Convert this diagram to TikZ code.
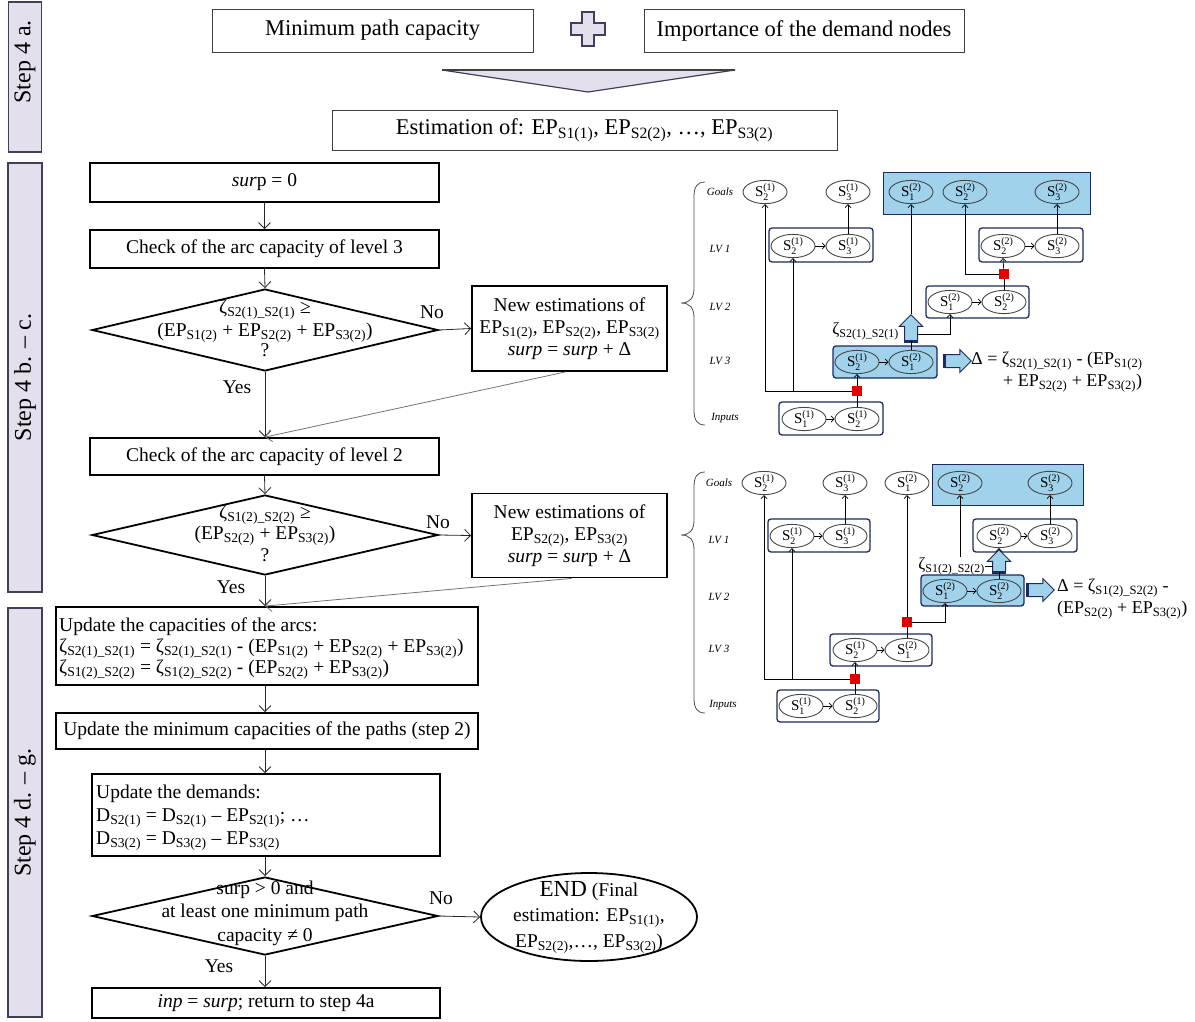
\documentclass[tikz,border=0pt]{standalone}
\usepackage{fontspec}
\setmainfont{Liberation Serif}
\usetikzlibrary{shapes.geometric,shapes.arrows,arrows.meta,calc}
\definecolor{lav}{RGB}{228,223,236}
\definecolor{lavd}{RGB}{70,62,88}
\definecolor{skyb}{RGB}{160,210,235}
\definecolor{navy}{RGB}{28,42,92}
\definecolor{ellc}{RGB}{70,70,70}
\newcommand\sbs[1]{\textsubscript{#1}}
\newcommand\Sx[2]{S\rlap{\raisebox{-3.5pt}{\fontsize{10}{10}\selectfont #1}}\raisebox{6pt}{\fontsize{10}{10}\selectfont(#2)}}
\newcommand\fsm{\fontsize{19.5}{22}\selectfont}
\tikzset{
  fbox/.style={draw=black, line width=1.8pt, rectangle, inner sep=0pt, font=\fsm, align=center},
  tbox/.style={draw=black!75, line width=1pt, rectangle, inner sep=0pt, font=\fontsize{22.5}{24}\selectfont, align=center},
  dia/.style={draw=black, line width=1.8pt, diamond, inner sep=0pt},
  conn/.style={draw=black!85, line width=0.8pt, -{Straight Barb[length=6pt,width=12pt]}},
  slant/.style={draw=black!55, line width=0.8pt, -{Straight Barb[length=6pt,width=12pt]}},
  lbl/.style={font=\fsm, inner sep=0pt},
  stepbar/.style={draw=lavd, line width=1.5pt, fill=lav, rectangle, inner sep=0pt},
  steptxt/.style={rotate=90, font=\fontsize{24}{26}\selectfont, inner sep=0pt},
  ell/.style={ellipse, draw=ellc, line width=0.9pt, minimum width=44pt, minimum height=18pt, inner sep=0pt, font=\fontsize{15}{15}\selectfont},
  rbox/.style={draw=navy, line width=1.3pt, rounded corners=3pt, rectangle, inner sep=0pt},
  bbox/.style={rbox, fill=skyb},
  gbox/.style={draw=navy, line width=1pt, fill=skyb, rectangle, inner sep=0pt},
  lv/.style={font=\fontsize{11}{12}\selectfont\itshape, inner sep=0pt},
  sarr/.style={draw=black, line width=0.7pt, -{Straight Barb[length=3pt,width=6pt]}},
  sln/.style={draw=black, line width=0.7pt},
  redsq/.style={fill=red!90!black, draw=none, minimum size=10pt, inner sep=0pt},
  blk/.style={single arrow, draw=navy, line width=1pt, fill=skyb, inner sep=6pt, single arrow head extend=5pt, single arrow tip angle=90},
  brace/.style={draw=black!70, line width=0.8pt},
  dtxt/.style={font=\fontsize{18}{20}\selectfont, inner sep=0pt, anchor=west},
  ztxt/.style={font=\fontsize{17}{18}\selectfont, inner sep=0pt, anchor=east},
}
\begin{document}
\begin{tikzpicture}[x=1pt,y=-1pt]
\useasboundingbox (0,0) rectangle (1195,1021);
% ---------- step bars
\node[stepbar, minimum width=33, minimum height=150] (s4a) at (25,77) {};
\node[steptxt] (s4aT) at (25,62) {Step 4 a.};
\node[stepbar, minimum width=34, minimum height=429] (s4b) at (25,377.5) {};
\node[steptxt] (s4bT) at (s4b) {Step 4 b. – c.};
\node[stepbar, minimum width=34, minimum height=409] (s4d) at (25,812.5) {};
\node[steptxt] (s4dT) at (s4d) {Step 4 d. – g.};
% ---------- top
\node[tbox, minimum width=321, minimum height=43] (mpc) at (372.5,30.5) {Minimum path capacity};
\node[tbox, minimum width=320, minimum height=43] (imp) at (804,30.5) {Importance of the demand nodes};
\draw[lavd, line width=1.3pt, fill=lav] (582,12) -- (594,12) -- (594,23) -- (605,23) -- (605,35) -- (594,35) -- (594,46) -- (582,46) -- (582,35) -- (571,35) -- (571,23) -- (582,23) -- cycle;
\draw[lavd, line width=1.2pt, fill=lav] (442,70) -- (735,70) -- (588,92) -- cycle;
\draw[black!75, line width=2pt] (442,70) -- (735,70);
\node[tbox, minimum width=505, minimum height=40] (est) at (584.5,130) {Estimation of: EP\sbs{S1(1)}, EP\sbs{S2(2)}, …, EP\sbs{S3(2)}};
% ---------- flowchart
\node[fbox, minimum width=349, minimum height=39] (surp0) at (264.5,182.5) {\textit{sur}p = 0};
\node[fbox, minimum width=349, minimum height=38] (chk3) at (264.5,249) {Check of the arc capacity of level 3};
\node[dia, minimum width=346, minimum height=82] (d1) at (265,330) {};
\node[lbl, align=center, font=\fontsize{19.5}{23}\selectfont] (d1T) at (265,328) {ζ\sbs{S2(1)\_S2(1)} ≥\\(EP\sbs{S1(2)} + EP\sbs{S2(2)} + EP\sbs{S3(2)})\\[-3pt]?};
\node[fbox, minimum width=195, minimum height=85] (new1) at (569.5,328.5) {New estimations of\\EP\sbs{S1(2)}, EP\sbs{S2(2)}, EP\sbs{S3(2)}\\\textit{surp} = \textit{surp} + Δ};
\node[fbox, minimum width=349, minimum height=37] (chk2) at (264.5,456.5) {Check of the arc capacity of level 2};
\node[dia, minimum width=346, minimum height=80] (d2) at (265,535) {};
\node[lbl, align=center, font=\fontsize{19.5}{21.5}\selectfont] (d2T) at (265,533) {ζ\sbs{S1(2)\_S2(2)} ≥\\(EP\sbs{S2(2)} + EP\sbs{S3(2)})\\?};
\node[fbox, minimum width=195, minimum height=84] (new2) at (569.5,535.5) {New estimations of\\EP\sbs{S2(2)}, EP\sbs{S3(2)}\\\textit{surp} = \textit{sur}p + Δ};
\node[fbox, minimum width=422, minimum height=78] (upd) at (267,646) {};
\node[lbl, align=left, anchor=west, font=\fontsize{19.5}{21}\selectfont] (updT) at (59,649) {Update the capacities of the arcs:\\ζ\sbs{S2(1)\_S2(1)} = ζ\sbs{S2(1)\_S2(1)} - (EP\sbs{S1(2)} + EP\sbs{S2(2)} + EP\sbs{S3(2)})\\ζ\sbs{S1(2)\_S2(2)} = ζ\sbs{S1(2)\_S2(2)} - (EP\sbs{S2(2)} + EP\sbs{S3(2)})};
\node[fbox, minimum width=422, minimum height=36] (updmin) at (267,731) {Update the minimum capacities of the paths (step 2)};
\node[fbox, minimum width=348, minimum height=82] (dem) at (266,815) {};
\node[lbl, align=left, anchor=west, font=\fontsize{19.5}{23}\selectfont] (demT) at (96,818) {Update the demands:\\D\sbs{S2(1)} = D\sbs{S2(1)} – EP\sbs{S2(1)}; …\\D\sbs{S3(2)} = D\sbs{S3(2)} – EP\sbs{S3(2)}};
\node[dia, minimum width=346, minimum height=78] (d3) at (265,916) {};
\node[lbl, align=center, font=\fontsize{19.5}{23.5}\selectfont] (d3T) at (265,913) {surp \textgreater{} 0 and\\at least one minimum path\\capacity ≠ 0};
\node[ellipse, draw=black, line width=1.8pt, minimum width=216, minimum height=88, inner sep=0pt] (endE) at (589,917) {};
\node[lbl, align=center, font=\fontsize{19.5}{25.5}\selectfont] (endT) at (589,917) {{\fontsize{23}{25}\selectfont END} (Final\\estimation: EP\sbs{S1(1)},\\EP\sbs{S2(2)},…, EP\sbs{S3(2)})};
\node[fbox, minimum width=348, minimum height=30] (fin) at (266,1003) {\textit{inp} = \textit{surp}; return to step 4a};
% flow connectors
\draw[conn] (surp0.south) -- (chk3.north);
\draw[conn] (chk3.south) -- (d1.north);
\draw[conn] (d1.south) -- (d1.south |- chk2.north);
\draw[conn] (d1.east) -- (new1.west);
\draw[slant] ([xshift=-4pt]new1.south) -- (d1.south |- chk2.north);
\draw[conn] (chk2.south) -- (d2.north);
\draw[conn] (d2.south) -- (d2.south |- upd.north);
\draw[conn] (d2.east) -- (new2.west);
\draw[slant] ([xshift=2pt]new2.south) -- (d2.south |- upd.north);
\draw[conn] (d2.south |- upd.south) -- (d2.south |- updmin.north);
\draw[conn] (d2.south |- updmin.south) -- (d2.south |- dem.north);
\draw[conn] (d3.south |- dem.south) -- (d3.north);
\draw[conn] (d3.east) -- (endE.west);
\draw[conn] (d3.south) -- (d3.south |- fin.north);
\node[lbl] (n1) at (432,312) {No};
\node[lbl] (y1) at (237,387) {Yes};
\node[lbl] (n2) at (438,522) {No};
\node[lbl] (y2) at (231,587) {Yes};
\node[lbl] (n3) at (441,898) {No};
\node[lbl] (y3) at (219,966) {Yes};
% ---------- right diagram 1
\node[lv] (aLg) at (720,192) {Goals};
\node[lv] (aL1) at (720,249) {LV 1};
\node[lv] (aL2) at (720,307) {LV 2};
\node[lv] (aL3) at (720,361) {LV 3};
\node[lv] (aLi) at (725,418) {Inputs};
\draw[brace] (705,182) .. controls (697,182) and (694,187) .. (694,197) -- (694,288) .. controls (694,298) and (690,303) .. (681,303) .. controls (690,303) and (694,308) .. (694,318) -- (694,410) .. controls (694,420) and (697,425) .. (705,425);
\node[gbox, minimum width=207, minimum height=42] (aGB) at (986.5,193) {};
\node[rbox, minimum width=104, minimum height=34] (aB1) at (821,245) {};
\node[rbox, minimum width=104, minimum height=34] (aB2) at (1031,245) {};
\node[rbox, minimum width=103, minimum height=32] (aB3) at (977.5,302) {};
\node[bbox, minimum width=104, minimum height=32] (aB4) at (885,362) {};
\node[rbox, minimum width=104, minimum height=33] (aB5) at (831,418.5) {};
\node[ell] (aG21) at (765,192) {\Sx{2}{1}};
\node[ell] (aG31) at (848,192) {\Sx{3}{1}};
\node[ell] (aG12) at (911,192) {\Sx{1}{2}};
\node[ell] (aG22) at (965,192) {\Sx{2}{2}};
\node[ell] (aG32) at (1057,192) {\Sx{3}{2}};
\node[ell] (aV1a) at (793,246) {\Sx{2}{1}};
\node[ell] (aV1b) at (848,246) {\Sx{3}{1}};
\node[ell] (aV1c) at (1003,246) {\Sx{2}{2}};
\node[ell] (aV1d) at (1057,246) {\Sx{3}{2}};
\node[ell] (aV2a) at (950,302) {\Sx{1}{2}};
\node[ell] (aV2b) at (1004,302) {\Sx{2}{2}};
\node[ell] (aV3a) at (857,362) {\Sx{2}{1}};
\node[ell] (aV3b) at (911,362) {\Sx{1}{2}};
\node[ell] (aIa) at (804,419) {\Sx{1}{1}};
\node[ell] (aIb) at (857,419) {\Sx{2}{1}};
\node[redsq] (aR1) at (857,391) {};
\node[redsq] (aR2) at (1004,274) {};
\node[blk, shape border rotate=90, minimum height=26pt] (aBU) at (911,331) {};
\draw[navy, line width=3pt] (aBU.before tail) -- (aBU.after tail);
\node[blk, minimum height=26pt] (aBR) at (955,361) {};
\draw[navy, line width=3pt] (aBR.before tail) -- (aBR.after tail);
\node[ztxt] (aZ) at (899,331) {ζ\sbs{S2(1)\_S2(1)}};
\node[dtxt] (aD1) at (971,361) {Δ = ζ\sbs{S2(1)\_S2(1)} - (EP\sbs{S1(2)}};
\node[dtxt] (aD2) at (1003,383) {+ EP\sbs{S2(2)} + EP\sbs{S3(2)})};
\coordinate (aJ) at (917,334);
\draw[sln] (aIb.north) -- (aR1);
\draw[sarr] (aR1) -- (aV3a.south);
\draw[sarr] (aR1.west) -- (aR1.west -| aG21) -- (aG21.south);
\draw[sarr] (aR1.west -| aV1a) -- (aV1a.south);
\draw[sarr] (aV1b.north) -- (aG31.south);
\draw[sln] (aV3b.north) -- (aBU.tail);
\draw[sarr] (aBU.tip) -- (aG12.south);
\draw[sarr] (aJ) -| (aV2a.south);
\draw[sln] (aV2b.north) -- (aR2);
\draw[sarr] (aR2) -- (aV1c.south);
\draw[sarr] (aR2.west) -- (aR2.west -| aG22) -- (aG22.south);
\draw[sarr] (aV1d.north) -- (aG32.south);
\draw[sarr] (aV1a) -- (aV1b);
\draw[sarr] (aV1c) -- (aV1d);
\draw[sarr] (aV2a) -- (aV2b);
\draw[sarr] (aV3a) -- (aV3b);
\draw[sarr] (aIa) -- (aIb);
% ---------- right diagram 2
\node[lv] (bLg) at (719,483) {Goals};
\node[lv] (bL1) at (719,540) {LV 1};
\node[lv] (bL2) at (719,597) {LV 2};
\node[lv] (bL3) at (719,649) {LV 3};
\node[lv] (bLi) at (723,705) {Inputs};
\draw[brace] (705,472) .. controls (697,472) and (694,477) .. (694,487) -- (694,520) .. controls (694,530) and (690,535) .. (681,535) .. controls (690,535) and (694,540) .. (694,550) -- (694,698) .. controls (694,708) and (697,713) .. (705,713);
\node[gbox, minimum width=151, minimum height=41] (bGB) at (1007.5,484.5) {};
\node[rbox, minimum width=102, minimum height=33] (bB1) at (819,535.5) {};
\node[rbox, minimum width=104, minimum height=33] (bB2) at (1025,535.5) {};
\node[bbox, minimum width=103, minimum height=31] (bB3) at (972.5,590.5) {};
\node[rbox, minimum width=102, minimum height=32] (bB4) at (881,650) {};
\node[rbox, minimum width=102, minimum height=32] (bB5) at (828,706) {};
\node[ell] (bG21) at (764,483) {\Sx{2}{1}};
\node[ell] (bG31) at (845,483) {\Sx{3}{1}};
\node[ell] (bG12) at (907,483) {\Sx{1}{2}};
\node[ell] (bG22) at (960,483) {\Sx{2}{2}};
\node[ell] (bG32) at (1050,483) {\Sx{3}{2}};
\node[ell] (bV1a) at (792,536) {\Sx{2}{1}};
\node[ell] (bV1b) at (845,536) {\Sx{3}{1}};
\node[ell] (bV1c) at (999,536) {\Sx{2}{2}};
\node[ell] (bV1d) at (1050,536) {\Sx{3}{2}};
\node[ell] (bV2a) at (945,591) {\Sx{1}{2}};
\node[ell] (bV2b) at (999,591) {\Sx{2}{2}};
\node[ell] (bV3a) at (855,650) {\Sx{2}{1}};
\node[ell] (bV3b) at (907,650) {\Sx{1}{2}};
\node[ell] (bIa) at (801,706) {\Sx{1}{1}};
\node[ell] (bIb) at (855,706) {\Sx{2}{1}};
\node[redsq] (bR1) at (855,679) {};
\node[redsq] (bR2) at (907,622) {};
\node[blk, shape border rotate=90, minimum height=22pt] (bBU) at (999,564) {};
\draw[navy, line width=3pt] (bBU.before tail) -- (bBU.after tail);
\node[blk, minimum height=26pt] (bBR) at (1038,590) {};
\draw[navy, line width=3pt] (bBR.before tail) -- (bBR.after tail);
\node[ztxt] (bZ) at (985,566) {ζ\sbs{S1(2)\_S2(2)}};
\node[dtxt] (bD1) at (1057,588) {Δ = ζ\sbs{S1(2)\_S2(2)} -};
\node[dtxt] (bD2) at (1057,610) {(EP\sbs{S2(2)} + EP\sbs{S3(2)})};
\coordinate (bJ) at (960,557);
\coordinate (bK) at (993,566);
\draw[sln] (bZ.east) -- (bK);
\draw[sln] (bIb.north) -- (bR1);
\draw[sarr] (bR1) -- (bV3a.south);
\draw[sarr] (bR1.west) -- (bR1.west -| bG21) -- (bG21.south);
\draw[sarr] (bR1.west -| bV1a) -- (bV1a.south);
\draw[sarr] (bV1b.north) -- (bG31.south);
\draw[sln] (bV3b.north) -- (bR2);
\draw[sarr] (bR2) -- (bG12.south);
\draw[sarr] (bR2.east) -- (bR2.east -| bV2a) -- (bV2a.south);
\draw[sln] (bV2b.north) -- (bBU.tail);
\draw[sarr] (bBU.tip) -- (bV1c.south);
\draw[sarr] (bJ) -- (bG22.south);
\draw[sarr] (bV1d.north) -- (bG32.south);
\draw[sarr] (bV1a) -- (bV1b);
\draw[sarr] (bV1c) -- (bV1d);
\draw[sarr] (bV2a) -- (bV2b);
\draw[sarr] (bV3a) -- (bV3b);
\draw[sarr] (bIa) -- (bIb);
\end{tikzpicture}
\end{document}
